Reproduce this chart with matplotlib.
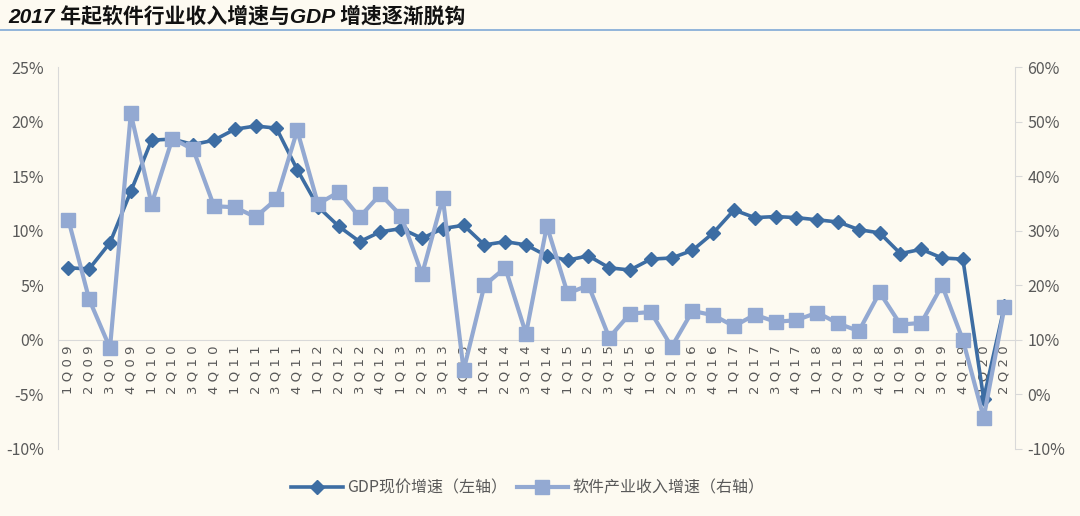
import matplotlib.pyplot as plt
import matplotlib.ticker as mticker
from matplotlib.lines import Line2D

plt.rcParams['font.family'] = ['Noto Sans CJK SC', 'DejaVu Sans']

quarters = [f"{q}Q{y:02d}" for y in range(9, 21) for q in range(1, 5)][:46]

# GDP nominal growth, left axis (%)
gdp = [6.6, 6.5, 8.9, 13.6, 18.3, 18.4, 17.9, 18.3, 19.3, 19.6, 19.4, 15.6,
       12.2, 10.4, 9.0, 9.9, 10.2, 9.3, 10.2, 10.5, 8.7, 9.0, 8.7, 7.7,
       7.3, 7.7, 6.6, 6.4, 7.4, 7.5, 8.2, 9.8, 11.9, 11.2, 11.3, 11.2,
       11.0, 10.8, 10.1, 9.8, 7.9, 8.3, 7.5, 7.4, -5.4, 3.1]

# software industry revenue growth, right axis (%)
software = [32.0, 17.4, 8.5, 51.5, 34.9, 46.9, 44.9, 34.5, 34.3, 32.5, 35.8, 48.4,
            34.9, 37.1, 32.5, 36.7, 32.7, 22.0, 36.0, 4.4, 20.0, 23.2, 11.1, 30.9,
            18.5, 20.0, 10.4, 14.8, 15.1, 8.7, 15.3, 14.5, 12.5, 14.6, 13.3, 13.6,
            15.0, 13.0, 11.6, 18.7, 12.8, 13.1, 20.0, 10.0, -4.3, 16.0]

label_gdp = 'GDP现价增速（左轴）'
label_sw = '软件产业收入增速（右轴）'

bg = '#FDFAF1'
c_gdp = '#3D6DA3'
c_sw = '#93A9D2'
c_txt = '#595959'
c_axis = '#D9D9D9'

fig = plt.figure(figsize=(10.8, 5.16), dpi=100, facecolor=bg)
ax = fig.add_axes([0.0537, 0.130, 0.886, 0.740])
ax.set_facecolor(bg)
ax2 = ax.twinx()

x = list(range(len(quarters)))
ax.plot(x, gdp, color=c_gdp, lw=2.6, marker='D', ms=7.5, zorder=3)
ax2.plot(x, software, color=c_sw, lw=3.0, marker='s', ms=9.5, zorder=3)

ax.set_xlim(-0.5, len(quarters) - 0.5)
ax.set_ylim(-10, 25)
ax2.set_ylim(-10, 60)
ax.set_yticks(range(-10, 30, 5))
ax2.set_yticks(range(-10, 70, 10))
pct = mticker.FuncFormatter(lambda v, p: f"{v:.0f}%")
ax.yaxis.set_major_formatter(pct)
ax2.yaxis.set_major_formatter(pct)

for a in (ax, ax2):
    for s in a.spines.values():
        s.set_visible(False)
    a.tick_params(colors=c_txt, labelsize=11.5)

ax.spines['left'].set_visible(True)
ax.spines['left'].set_color(c_axis)
ax.tick_params(axis='y', length=0, pad=10)
ax2.spines['right'].set_visible(True)
ax2.spines['right'].set_color(c_axis)
ax2.tick_params(axis='y', length=5, color=c_axis, pad=4)

# category axis sits on the 0% line; labels spaced out like the original
ax.spines['bottom'].set_visible(True)
ax.spines['bottom'].set_position(('data', 0))
ax.spines['bottom'].set_color(c_axis)
ax.set_xticks(x)
ax.set_xticklabels([' '.join(q) for q in quarters], rotation=90, fontsize=9.5,
                   color=c_txt, family='DejaVu Sans')
ax.tick_params(axis='x', length=0, pad=4)

fig.text(0.008, 0.968, '2017 年起软件行业收入增速与GDP 增速逐渐脱钩',
         fontsize=15, fontweight='bold', style='italic', va='center',
         ha='left', color='#111111',
         family=['Liberation Sans', 'Noto Sans CJK SC'])
fig.add_artist(Line2D([0, 1], [0.942, 0.942], color='#7FA9D6', lw=1.2))

handles = [Line2D([], [], color=c_gdp, lw=2.6, marker='D', ms=7.5),
           Line2D([], [], color=c_sw, lw=3.0, marker='s', ms=9.5)]
fig.legend(handles, [label_gdp, label_sw], loc='center', ncol=2,
           bbox_to_anchor=(0.489, 0.055), frameon=False, fontsize=11.5,
           labelcolor=c_txt, handlelength=3.2, columnspacing=0.6,
           handletextpad=0.3)

fig.savefig('out.png', dpi=100, facecolor=bg)
